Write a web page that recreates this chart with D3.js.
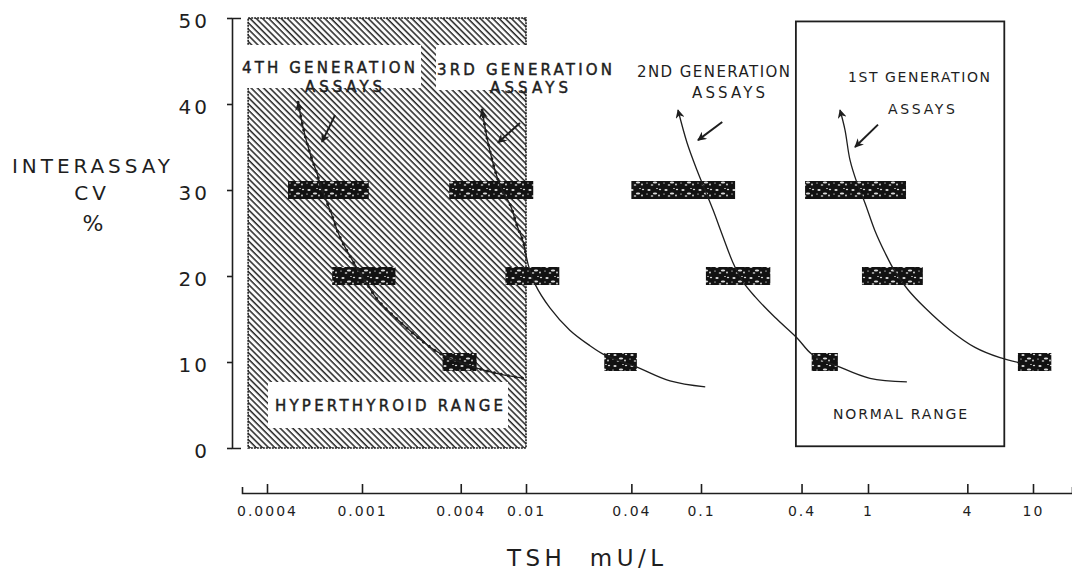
<!DOCTYPE html>
<html lang="en">
<head>
<meta charset="utf-8">
<title>Interassay CV by TSH assay generation</title>
<script src="https://d3js.org/d3.v7.min.js"></script>
<style>
  body { margin: 0; background: #fff; }
  svg text { font-family: "DejaVu Sans", sans-serif; fill: #1e1e1e; }
</style>
</head>
<body>
<div id="chart"></div>
<script>
// x axis ticks (TSH mU/L) and y axis ticks (CV %)
var xTicks = [0.0004, 0.001, 0.004, 0.01, 0.04, 0.1, 0.4, 1, 4, 10];
var xTickLabels = ["0.0004", "0.001", "0.004", "0.01", "0.04", "0.1", "0.4", "1", "4", "10"];
var yTicks = [0, 10, 20, 30, 40, 50];

// shaded / boxed TSH ranges
var hyperRange = [0.00033, 0.01];
var normalRange = [0.37, 6.7];
var normalCv = [0.2, 49.6];

// CV level of each bar, same order as the bar lists below
var cvLevels = [30, 20, 10];

// TSH span [low, high] of the bars at 30, 20, 10 % CV
var gen4Bars = [[0.00049, 0.0011], [0.00075, 0.0016], [0.0031, 0.005]];
var gen3Bars = [[0.0034, 0.011], [0.0075, 0.0155], [0.028, 0.043]];
var gen2Bars = [[0.04, 0.16], [0.107, 0.26], [0.46, 0.66]];
var gen1Bars = [[0.42, 1.7], [0.92, 2.15], [8.1, 12.9]];

// precision profiles [TSH, CV], first point is the arrow tip
var gen4Curve = [[0.00054, 40.2], [0.000566, 37.3], [0.000605, 34.3], [0.000648, 31.9], [0.00068, 30],
  [0.000734, 27.7], [0.000809, 24.5], [0.000908, 21.9], [0.00104, 19.5], [0.00125, 17.2], [0.0017, 14.7],
  [0.00249, 12], [0.00312, 10.8], [0.00502, 9.3], [0.00694, 8.6], [0.0097, 8.1]];
var gen3Curve = [[0.0054, 39.3], [0.00587, 35.5], [0.00647, 32.3], [0.00714, 30], [0.008, 28.3],
  [0.0088, 25.9], [0.0096, 24], [0.0103, 21.3], [0.0113, 19], [0.0137, 16.3], [0.0178, 13.7],
  [0.0232, 11.9], [0.0283, 10.8], [0.0431, 9.4], [0.0665, 7.8], [0.106, 7.1]];
var gen2Curve = [[0.0739, 39.3], [0.0832, 35.5], [0.0949, 32.3], [0.1057, 30], [0.118, 27.7],
  [0.134, 24.8], [0.155, 21.6], [0.176, 19.5], [0.2105, 17.6], [0.277, 15.2], [0.376, 12.8],
  [0.462, 10.9], [0.661, 9.5], [1.028, 8.1], [1.72, 7.7]];
var gen1Curve = [[0.68, 39.3], [0.728, 37], [0.78, 33.5], [0.86, 30.8], [0.959, 28.5], [1.1, 25.3],
  [1.268, 22.7], [1.458, 20.5], [1.747, 18.4], [2.215, 16.3], [3.14, 13.7], [4.45, 11.7],
  [6.31, 10.5], [8.34, 9.9]];

// small pointer arrows [from, to]
var gen4Pointer = [[0.000771, 38.7], [0.00068, 35.6]];
var gen3Pointer = [[0.00919, 37.8], [0.00675, 35.5]];
var gen2Pointer = [[0.134, 37.9], [0.0961, 35.8]];
var gen1Pointer = [[1.15, 37.6], [0.836, 35]];

var width = 1072,
    height = 575,
    ink = "#1e1e1e";

var svg = d3.select("#chart").append("svg")
    .attr("width", width)
    .attr("height", height);

// the printed axis is not a perfect log scale, so calibrate it per decade
var x = d3.scaleLog()
    .domain([0.00031, 0.0004, 0.001, 0.01, 0.1, 1, 10, 17.2])
    .range([242, 267, 362, 526, 701, 868, 1033, 1072]);

var y = d3.scaleLinear()
    .domain([0, 50])
    .range([448, 18]);

var defs = svg.append("defs");

var hatch = defs.append("pattern")
    .attr("id", "hatch")
    .attr("patternUnits", "userSpaceOnUse")
    .attr("width", 4.4)
    .attr("height", 4.4)
    .attr("patternTransform", "rotate(-45)");
hatch.append("rect").attr("width", 4.4).attr("height", 4.4).attr("fill", "#fbfbfb");
hatch.append("line")
    .attr("x1", 1).attr("y1", 0).attr("x2", 1).attr("y2", 4.4)
    .attr("stroke", "#262626").attr("stroke-width", 1.5);

var speckle = defs.append("pattern")
    .attr("id", "speckle")
    .attr("patternUnits", "userSpaceOnUse")
    .attr("width", 17)
    .attr("height", 11);
speckle.append("rect").attr("width", 17).attr("height", 11).attr("fill", "#121212");
[[3, 3, 1.6, 0.9], [9, 6.5, 2.2, 0.9], [14, 2.5, 1.2, 0.8], [6, 9, 1.3, 0.7], [13, 8.5, 0.9, 0.9],
 [1, 7, 0.8, 0.6], [11, 1.5, 0.9, 0.6]]
    .forEach(function(e) {
        speckle.append("ellipse")
            .attr("cx", e[0]).attr("cy", e[1]).attr("rx", e[2]).attr("ry", e[3])
            .attr("fill", "#dcdcdc");
    });

defs.append("marker")
    .attr("id", "arrow")
    .attr("viewBox", "0 0 10 10")
    .attr("refX", 9)
    .attr("refY", 5)
    .attr("markerUnits", "userSpaceOnUse")
    .attr("markerWidth", 10)
    .attr("markerHeight", 9)
    .attr("orient", "auto-start-reverse")
  .append("path")
    .attr("d", "M0,0L10,5L0,10L3,5Z")
    .attr("fill", ink);

defs.append("clipPath")
    .attr("id", "hyperClip")
  .append("rect")
    .attr("x", x(hyperRange[0]))
    .attr("y", y(50))
    .attr("width", x(hyperRange[1]) - x(hyperRange[0]))
    .attr("height", y(0) - y(50));

// hyperthyroid range, hatched
svg.append("rect")
    .attr("x", x(hyperRange[0]))
    .attr("y", y(50))
    .attr("width", x(hyperRange[1]) - x(hyperRange[0]))
    .attr("height", y(0) - y(50))
    .attr("fill", "url(#hatch)")
    .attr("stroke", ink)
    .attr("stroke-width", 1.6)
    .attr("stroke-dasharray", "2 1");

// white label cut-outs in the hatching
var masks = [
    {x: 240, y: 45, w: 181, h: 43},
    {x: 436, y: 45, w: 99, h: 45},
    {x: 268, y: 382, w: 240, h: 46}
];
svg.selectAll("rect.mask")
    .data(masks)
    .enter().append("rect")
    .attr("class", "mask")
    .attr("x", function(d) { return d.x; })
    .attr("y", function(d) { return d.y; })
    .attr("width", function(d) { return d.w; })
    .attr("height", function(d) { return d.h; })
    .attr("fill", "#fff");

// normal range box
svg.append("rect")
    .attr("x", x(normalRange[0]))
    .attr("y", y(normalCv[1]))
    .attr("width", x(normalRange[1]) - x(normalRange[0]))
    .attr("height", y(normalCv[0]) - y(normalCv[1]))
    .attr("fill", "none")
    .attr("stroke", ink)
    .attr("stroke-width", 1.8);

var generations = [
    {bars: gen4Bars, curve: gen4Curve, pointer: gen4Pointer},
    {bars: gen3Bars, curve: gen3Curve, pointer: gen3Pointer},
    {bars: gen2Bars, curve: gen2Curve, pointer: gen2Pointer},
    {bars: gen1Bars, curve: gen1Curve, pointer: gen1Pointer}
];

var line = d3.line()
    .x(function(d) { return x(d[0]); })
    .y(function(d) { return y(d[1]); })
    .curve(d3.curveCatmullRom.alpha(0.5));

var barHalf = 9;

generations.forEach(function(g) {
    svg.append("g").selectAll("rect")
        .data(g.bars)
        .enter().append("rect")
        .attr("x", function(d) { return x(d[0]); })
        .attr("y", function(d, i) { return y(cvLevels[i]) - barHalf; })
        .attr("width", function(d) { return x(d[1]) - x(d[0]); })
        .attr("height", barHalf * 2)
        .attr("fill", "url(#speckle)");

    svg.append("path")
        .datum(g.curve)
        .attr("d", line)
        .attr("fill", "none")
        .attr("stroke", ink)
        .attr("stroke-width", 1.3)
        .attr("marker-start", "url(#arrow)");

    // beaded look where the curve runs over the hatching
    svg.append("path")
        .datum(g.curve)
        .attr("d", line)
        .attr("clip-path", "url(#hyperClip)")
        .attr("fill", "none")
        .attr("stroke", ink)
        .attr("stroke-width", 3)
        .attr("stroke-linecap", "round")
        .attr("stroke-dasharray", "0.1 7");

    svg.append("line")
        .attr("x1", x(g.pointer[0][0]))
        .attr("y1", y(g.pointer[0][1]))
        .attr("x2", x(g.pointer[1][0]))
        .attr("y2", y(g.pointer[1][1]))
        .attr("stroke", ink)
        .attr("stroke-width", 2)
        .attr("marker-end", "url(#arrow)");
});

// annotation text (heavy = slightly thicker print)
var notes = [
    {t: "4TH GENERATION", x: 242, y: 68, w: 173, fs: 15, heavy: true},
    {t: "ASSAYS", x: 305, y: 87, w: 77, fs: 15, heavy: true},
    {t: "3RD GENERATION", x: 437, y: 70, w: 175, fs: 15, heavy: true},
    {t: "ASSAYS", x: 490, y: 88, w: 78, fs: 15, heavy: true},
    {t: "2ND GENERATION", x: 637, y: 72, w: 153, fs: 15, heavy: false},
    {t: "ASSAYS", x: 692, y: 93, w: 73, fs: 15, heavy: false},
    {t: "1ST GENERATION", x: 848, y: 77, w: 142, fs: 14, heavy: false},
    {t: "ASSAYS", x: 888, y: 109, w: 67, fs: 14, heavy: false},
    {t: "HYPERTHYROID RANGE", x: 275, y: 406, w: 228, fs: 15, heavy: true},
    {t: "NORMAL RANGE", x: 833, y: 414, w: 134, fs: 14, heavy: false}
];
svg.selectAll("text.note")
    .data(notes)
    .enter().append("text")
    .attr("class", "note")
    .attr("x", function(d) { return d.x; })
    .attr("y", function(d) { return d.y; })
    .attr("dy", "0.36em")
    .attr("font-size", function(d) { return d.fs; })
    .attr("stroke", function(d) { return d.heavy ? ink : "none"; })
    .attr("stroke-width", 0.45)
    .attr("textLength", function(d) { return d.w; })
    .attr("lengthAdjust", "spacing")
    .text(function(d) { return d.t; });

// axes
var yAxis = svg.append("g")
    .attr("transform", "translate(232,0)")
    .call(d3.axisLeft(y).tickValues(yTicks).tickSize(5).tickSizeOuter(-9).tickPadding(17));
yAxis.selectAll("path, line").attr("stroke", ink).attr("stroke-width", 1.6);
yAxis.selectAll("text")
    .attr("font-size", 20)
    .attr("letter-spacing", 3)
    .attr("dy", "0.45em")
    .attr("fill", ink);

var xAxis = svg.append("g")
    .attr("transform", "translate(0,493)")
    .call(d3.axisBottom(x)
        .tickValues(xTicks)
        .tickFormat(function(d, i) { return xTickLabels[i]; })
        .tickSize(-9)
        .tickSizeOuter(-6)
        .tickPadding(13));
xAxis.selectAll("path, line").attr("stroke", ink).attr("stroke-width", 1.6);
xAxis.selectAll("text")
    .attr("font-size", 14)
    .attr("letter-spacing", 2)
    .attr("fill", ink);

// axis titles
svg.append("text")
    .attr("x", 12).attr("y", 166).attr("dy", "0.36em")
    .attr("font-size", 20)
    .attr("textLength", 158)
    .attr("lengthAdjust", "spacing")
    .text("INTERASSAY");
svg.append("text")
    .attr("x", 92).attr("y", 193).attr("dy", "0.36em")
    .attr("font-size", 20)
    .attr("letter-spacing", 4)
    .attr("text-anchor", "middle")
    .text("CV");
svg.append("text")
    .attr("x", 93).attr("y", 223).attr("dy", "0.36em")
    .attr("font-size", 22)
    .attr("text-anchor", "middle")
    .text("%");
svg.append("text")
    .attr("x", 507).attr("y", 558).attr("dy", "0.36em")
    .attr("font-size", 23)
    .attr("textLength", 156)
    .attr("lengthAdjust", "spacing")
    .text("TSH\u00a0\u00a0mU/L");
</script>
</body>
</html>
